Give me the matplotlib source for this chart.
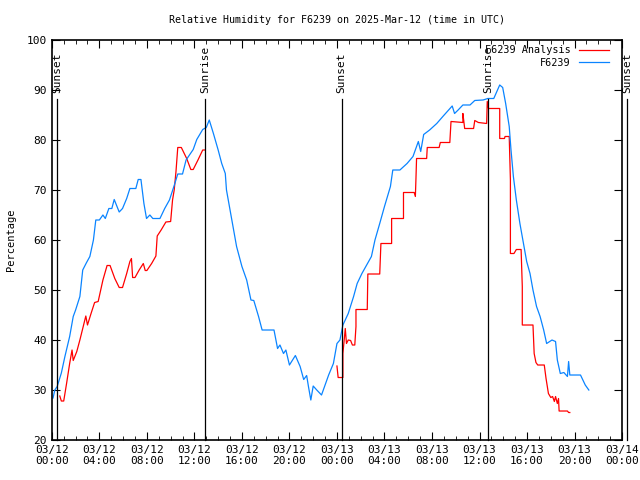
import numpy as np
import matplotlib
matplotlib.use("Agg")
import matplotlib.pyplot as plt
from matplotlib.ticker import MultipleLocator, FuncFormatter

# hours since 2025-03-12 00:00 UTC
obs_hours = [0.1, 0.25, 0.45, 0.8, 1.1, 1.5, 1.8, 2.0, 2.36, 2.6, 2.9, 3.2, 3.5, 3.7, 4.0,
             4.3, 4.5, 4.8, 5.05, 5.25, 5.67, 5.95, 6.3, 6.57, 7.07, 7.27, 7.5, 7.75, 7.97,
             8.25, 8.5, 9.1, 9.5, 9.9, 10.3, 10.6, 11.0, 11.3, 11.9, 12.2, 12.7, 13.0, 13.25,
             13.6, 14.0, 14.3, 14.6, 14.7, 15.0, 15.3, 15.55, 16.0, 16.4, 16.76, 17.0, 17.4,
             17.7, 18.7, 19.0, 19.2, 19.5, 19.7, 20.0, 20.5, 20.9, 21.2, 21.45, 21.6, 21.8,
             22.0, 22.3, 22.7, 23.0, 23.3, 23.7, 24.0, 24.25, 24.5, 24.95, 25.4, 25.7, 26.1,
             26.5, 26.9, 27.2, 27.6, 28.0, 28.5, 28.7, 29.3, 29.9, 30.4, 30.85, 31.05, 31.3,
             31.8, 32.4, 32.95, 33.7, 33.9, 34.2, 34.6, 35.2, 35.6, 36.3, 36.7, 37.2, 37.7,
             37.95, 38.2, 38.5, 38.65, 38.85, 39.1, 39.4, 39.7, 39.97, 40.25, 40.5, 40.8,
             41.1, 41.4, 41.65, 42.1, 42.4, 42.55, 42.8, 43.1, 43.4, 43.5, 43.6, 44.5, 44.9,
             45.2]
obs_rh = [28.4, 30.0, 30.7, 33.4, 36.7, 40.7, 44.7, 46.0, 48.7, 54.0, 55.4, 56.7, 60.0, 64.0,
          64.0, 65.0, 64.3, 66.3, 66.3, 68.1, 65.6, 66.3, 68.3, 70.3, 70.3, 72.1, 72.1, 67.3,
          64.3, 65.0, 64.3, 64.3, 66.3, 68.0, 70.9, 73.2, 73.2, 76.0, 78.1, 80.1, 82.1, 82.5,
          84.0, 81.3, 78.0, 75.3, 73.3, 70.0, 66.0, 62.0, 58.7, 54.7, 52.0, 48.0, 47.9, 44.7,
          42.0, 42.0, 38.3, 39.0, 37.3, 38.0, 35.0, 36.9, 34.7, 32.1, 32.9, 30.7, 28.0, 30.8,
          30.0, 29.0, 31.0, 33.0, 35.3, 39.3, 40.0, 43.0, 45.3, 48.7, 51.3, 53.3, 55.0, 56.7,
          60.0, 63.3, 66.7, 70.7, 74.0, 74.0, 75.3, 76.7, 79.7, 77.7, 81.1, 82.0, 83.3, 84.8,
          86.8, 85.3, 86.0, 87.0, 87.0, 87.9, 88.0, 88.3, 88.3, 91.0, 90.5, 87.3, 82.7, 78.0,
          72.7, 68.0, 63.3, 59.3, 55.7, 53.3, 50.0, 46.7, 44.7, 42.0, 39.3, 40.0, 39.7, 36.0,
          33.3, 33.5, 32.7, 35.7, 33.0, 33.0, 31.0, 30.0]

ana_hours = [0.67, 0.8, 1.0, 1.24, 1.5, 1.7, 1.8, 2.1, 2.36, 2.6, 2.86, 3.0, 3.3, 3.6, 3.9,
             4.3, 4.65, 4.9, 5.3, 5.67, 5.95, 6.3, 6.57, 6.7, 6.8, 7.0, 7.35, 7.7, 7.86, 8.0,
             8.4, 8.76, 8.87, 9.2, 9.6, 10.0, 10.16, 10.3, 10.45, 10.6, 10.9, 11.35, 11.7, 11.9,
             12.3, 12.7, 12.9,
             np.nan,
             24.0, 24.1, 24.5, 24.5, 24.7, 24.8, 24.95, 25.15, 25.3, 25.5, 25.6, 25.6, 26.55,
             26.6, 27.6, 27.7, 28.6, 28.6, 29.6, 29.6, 30.5, 30.6, 30.65, 30.7, 31.55, 31.6,
             32.6, 32.7, 33.5, 33.6, 34.6, 34.6, 34.75, 35.5, 35.6, 35.9, 36.6, 36.65, 36.76,
             37.7, 37.7, 38.1, 38.15, 38.5, 38.6, 38.6, 38.9, 39.1, 39.5, 39.6, 39.6, 40.5,
             40.6, 40.75, 40.9, 41.45, 41.6, 41.8, 42.0, 42.15, 42.3, 42.4, 42.55, 42.65, 42.7,
             43.4, 43.5, 43.6]
ana_rh = [28.8, 27.8, 27.8, 31.3, 35.3, 38.0, 35.9, 37.7, 40.0, 42.3, 44.8, 43.0, 45.3, 47.5,
          47.7, 52.0, 54.9, 54.9, 52.3, 50.5, 50.5, 53.3, 55.7, 56.3, 52.5, 52.5, 54.0, 55.3,
          53.9, 53.9, 55.3, 56.8, 60.8, 62.0, 63.6, 63.7, 68.0, 70.0, 73.7, 78.5, 78.5, 76.3,
          74.1, 74.1, 76.0, 78.0, 78.0,
          np.nan,
          34.8, 32.5, 32.5, 37.3, 42.3, 39.3, 40.0, 39.9, 39.0, 39.0, 42.7, 46.1, 46.1, 53.2,
          53.2, 59.3, 59.3, 64.3, 64.3, 69.5, 69.5, 68.7, 72.3, 76.3, 76.3, 78.5, 78.5, 79.5,
          79.5, 83.7, 83.5, 85.3, 82.3, 82.3, 83.9, 83.5, 83.3, 87.7, 86.3, 86.3, 80.3, 80.3,
          80.7, 80.7, 72.0, 57.3, 57.3, 58.1, 58.1, 50.7, 43.0, 43.0, 37.3, 35.5, 35.0, 35.0,
          32.3, 29.3, 28.5, 28.7, 27.7, 28.7, 27.3, 28.3, 25.8, 25.8, 25.5, 25.5]

sun_hours = [0.42, 12.9, 24.4, 36.7, 48.4]
sun_labels = ["Sunset", "Sunrise", "Sunset", "Sunrise", "Sunset"]

plt.rcParams['font.family'] = 'DejaVu Sans Mono'
plt.rcParams['font.size'] = 8

fig = plt.figure(figsize=(6.4, 4.8), dpi=100)
ax = fig.add_axes([0.081, 0.0833, 0.891, 0.8334])

ax.plot(ana_hours, ana_rh, color='#ff0000', lw=0.9, label='F6239 Analysis')
ax.plot(obs_hours, obs_rh, color='#0a84ff', lw=0.9, label='F6239')

# sunrise / sunset markers
for h, lab in zip(sun_hours, sun_labels):
    ax.plot([h, h], [20, 88.2], color='black', lw=0.9, clip_on=False)
    ax.text(h, 89.4, lab, rotation=90, ha='center', va='bottom', fontsize=8, clip_on=False)

ax.set_xlim(0, 48)
ax.set_ylim(20, 100)
ax.xaxis.set_major_locator(MultipleLocator(4))
ax.xaxis.set_minor_locator(MultipleLocator(1))
ax.yaxis.set_major_locator(MultipleLocator(10))


def fmt(h, pos):
    h = int(round(h))
    return "03/%02d\n%02d:00" % (12 + h // 24, h % 24)


ax.xaxis.set_major_formatter(FuncFormatter(fmt))
ax.tick_params(which='both', direction='in', top=True, right=True, labelsize=8)
ax.tick_params(which='major', length=6)
ax.tick_params(which='minor', length=3)
for s in ax.spines.values():
    s.set_linewidth(1.2)

ax.set_ylabel("Percentage", fontsize=7.5, labelpad=8)
ax.set_title("Relative Humidity for F6239 on 2025-Mar-12 (time in UTC)", fontsize=7.2, pad=12)
ax.legend(loc='upper right', bbox_to_anchor=(0.986, 1.0), frameon=False, markerfirst=False,
          handlelength=3.0, borderaxespad=0.1, labelspacing=0.25, fontsize=7.3)

fig.savefig("out.png", dpi=100)
